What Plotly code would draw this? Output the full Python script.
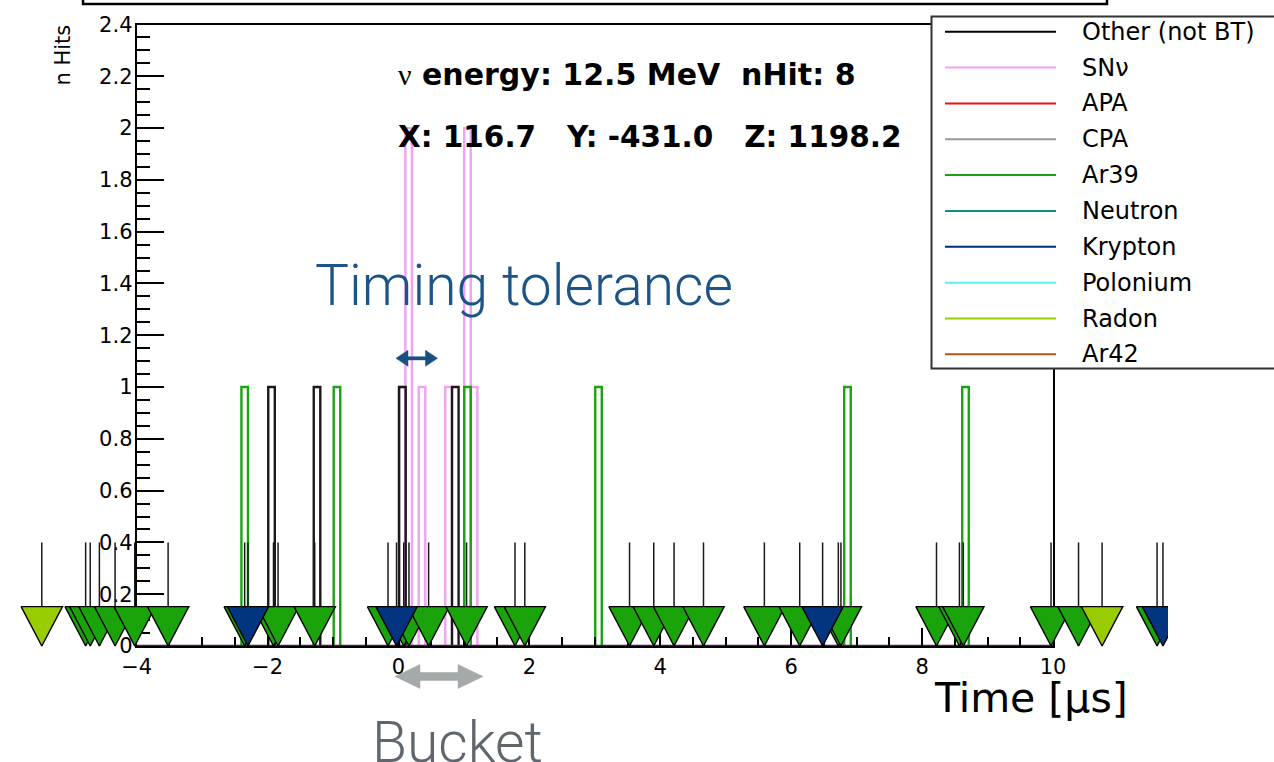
import plotly.graph_objects as go

# ---------------- data ----------------
x_tick_vals = [-4, -2, 0, 2, 4, 6, 8, 10]
y_tick_vals = [0, 0.2, 0.4, 0.6, 0.8, 1.0, 1.2, 1.4, 1.6, 1.8, 2.0, 2.2, 2.4]

legend_categories = ["Other (not BT)", "SNν", "APA", "CPA", "Ar39",
                     "Neutron", "Krypton", "Polonium", "Radon", "Ar42"]
legend_colors = ["#000000", "#f0a2f4", "#ee1111", "#999999", "#1f9f16",
                 "#0a9184", "#002f7a", "#5cf0f0", "#99cc00", "#b4561c"]

# histogram bins (bin centre in µs) and contents
other_hist_time = [-1.94, -1.245, 0.06, 0.868]
other_hist_count = [1, 1, 1, 1]
snnu_hist_time = [0.05, 0.155, 0.359, 0.764, 1.054, 1.155]
snnu_hist_count = [1, 2, 1, 1, 2, 1]
ar39_hist_time = [-2.35, -0.94, 1.054, 3.056, 6.86, 8.663]
ar39_hist_count = [1, 1, 1, 1, 1, 1]

# individual hits (time in µs), drawn as stems + triangles
ar39_hit_time = [-4.78, -4.71, -4.57, -4.33, -4.03, -3.52, -2.35, -1.91, -1.84,
                 -1.28, -0.16, 0.08, 0.16, 0.46, 1.04, 1.78, 1.93, 3.53, 3.90,
                 4.21, 4.66, 5.59, 6.13, 6.72, 6.76, 8.22, 8.57, 8.63, 9.97,
                 10.39, 11.59]
krypton_hit_time = [-2.30, -0.03, 6.48, 11.68]
radon_hit_time = [-5.45, 10.75]

title_line1 = "energy: 12.5 MeV\u00a0\u00a0nHit: 8"
title_line2 = "X: 116.7\u00a0\u00a0\u00a0Y: -431.0\u00a0\u00a0\u00a0Z: 1198.2"
x_title = "Time [μs]"
y_title = "n Hits"

# ---------------- styles / geometry ----------------
W, H = 1274, 762
AX_L, AX_R, AX_T, AX_B = 136.7, 1053.0, 24.5, 646.0
WIDE_R = 1168.0
BIN_W = 0.1
TRI_HALF_W = 0.316
TRI_H = 0.152
STEM_TOP = 0.4
FONT = "DejaVu Sans"
col = dict(zip(legend_categories, legend_colors))
ar39_fill = "#1aa30b"
kr_fill = "#033480"
rn_fill = "#99cc00"


def fx(px):
    return px / W


def fy(py):
    return 1 - py / H


x_min, x_max = x_tick_vals[0], x_tick_vals[-1]
y_min, y_max = y_tick_vals[0], y_tick_vals[-1]
ppu_x = (AX_R - AX_L) / (x_max - x_min)
ppu_y = (AX_B - AX_T) / (y_max - y_min)
x2_lo = x_min - AX_L / ppu_x
x2_hi = x_min + (WIDE_R - AX_L) / ppu_x

fig = go.Figure()


def outline(times, counts):
    xs, ys = [], []
    for t, n in zip(times, counts):
        xs += [t - BIN_W / 2, t - BIN_W / 2, t + BIN_W / 2, t + BIN_W / 2, None]
        ys += [0, n, n, 0, None]
    return xs, ys


for times, counts, c in [(snnu_hist_time, snnu_hist_count, col["SNν"]),
                         (other_hist_time, other_hist_count, "#1a1a1a"),
                         (ar39_hist_time, ar39_hist_count, "#1aa312")]:
    xs, ys = outline(times, counts)
    fig.add_trace(go.Scatter(x=xs, y=ys, mode="lines", line=dict(color=c, width=2.4),
                             xaxis="x", yaxis="y", showlegend=False, hoverinfo="skip"))

# histogram baseline along the full time axis
fig.add_trace(go.Scatter(x=[x_min, x_max], y=[0, 0], mode="lines",
                         line=dict(color="#5b0f5c", width=2.5),
                         xaxis="x", yaxis="y", showlegend=False, hoverinfo="skip"))

# stems for every hit
all_hits = sorted(ar39_hit_time + krypton_hit_time + radon_hit_time)
sx, sy = [], []
for t in all_hits:
    sx += [t, t, None]
    sy += [0, STEM_TOP, None]
fig.add_trace(go.Scatter(x=sx, y=sy, mode="lines", line=dict(color="#1a1a1a", width=1.5),
                         xaxis="x2", yaxis="y2", showlegend=False, hoverinfo="skip"))

# triangles
for times, fill in [(ar39_hit_time, ar39_fill), (krypton_hit_time, kr_fill),
                    (radon_hit_time, rn_fill)]:
    for t in times:
        fig.add_trace(go.Scatter(
            x=[t - TRI_HALF_W, t + TRI_HALF_W, t, t - TRI_HALF_W],
            y=[TRI_H, TRI_H, 0, TRI_H], mode="lines", fill="toself",
            fillcolor=fill, line=dict(color="black", width=1.4),
            xaxis="x2", yaxis="y2", showlegend=False, hoverinfo="skip"))

tickfont = dict(family=FONT, size=21, color="black")
fig.update_layout(
    width=W, height=H, margin=dict(l=0, r=0, t=0, b=0, pad=0, autoexpand=False),
    paper_bgcolor="white", plot_bgcolor="rgba(0,0,0,0)", showlegend=False,
    xaxis=dict(domain=[fx(AX_L), fx(AX_R)], range=[x_min, x_max], anchor="y",
               tickmode="linear", tick0=x_min, dtick=2, ticks="inside", ticklen=18,
               tickwidth=1.5, tickcolor="black",
               minor=dict(dtick=0.5, ticklen=9, tickwidth=1.5, tickcolor="black", ticks="inside"),
               showline=True, linecolor="black", linewidth=2, mirror=True,
               showgrid=False, zeroline=False, tickfont=tickfont, ticklabelstandoff=1,
               automargin=False),
    yaxis=dict(domain=[fy(AX_B), fy(AX_T)], range=[y_min, y_max], anchor="x",
               tickmode="linear", tick0=0, dtick=0.2, ticks="inside", ticklen=27,
               tickwidth=1.5, tickcolor="black",
               minor=dict(dtick=0.05, ticklen=13, tickwidth=1.5, tickcolor="black", ticks="inside"),
               showline=True, linecolor="black", linewidth=2, mirror=True,
               showgrid=False, zeroline=False, tickfont=tickfont, ticklabelstandoff=-2,
               automargin=False),
    xaxis2=dict(domain=[0, fx(WIDE_R)], range=[x2_lo, x2_hi], anchor="y2", visible=False),
    yaxis2=dict(domain=[fy(AX_B + 10), fy(AX_T)], range=[-10 / ppu_y, y_max],
                anchor="x2", visible=False),
)

shapes = []
annotations = []

# title box edge at the very top
shapes.append(dict(type="rect", xref="paper", yref="paper", x0=fx(83), x1=fx(1107),
                   y0=fy(4), y1=fy(-30), line=dict(color="black", width=2.5),
                   fillcolor="rgba(0,0,0,0)", layer="above"))

# legend
shapes.append(dict(type="rect", xref="paper", yref="paper", x0=fx(931.5), x1=fx(1290),
                   y0=fy(368.5), y1=fy(16.5), line=dict(color="#333333", width=2),
                   fillcolor="white", layer="above"))
for i, (cat, c) in enumerate(zip(legend_categories, legend_colors)):
    ry = 31.7 + 35.85 * i
    shapes.append(dict(type="line", xref="paper", yref="paper", x0=fx(945), x1=fx(1056),
                       y0=fy(ry), y1=fy(ry), line=dict(color=c, width=2), layer="above"))
    annotations.append(dict(text=cat, xref="paper", yref="paper", x=fx(1080), y=fy(ry),
                            xanchor="left", yanchor="middle", showarrow=False,
                            font=dict(family=FONT, size=24, color="black")))


def double_arrow(x0, x1, yc, st, hl, hh, color):
    pts = [(x0, yc), (x0 + hl, yc - hh), (x0 + hl, yc - st), (x1 - hl, yc - st),
           (x1 - hl, yc - hh), (x1, yc), (x1 - hl, yc + hh), (x1 - hl, yc + st),
           (x0 + hl, yc + st), (x0 + hl, yc + hh)]
    path = "M " + " L ".join(f"{fx(a):.5f},{fy(b):.5f}" for a, b in pts) + " Z"
    return dict(type="path", xref="paper", yref="paper", path=path,
                fillcolor=color, line=dict(color=color, width=0.5), layer="above")


shapes.append(double_arrow(396, 437.5, 358.3, 1.6, 12, 8, "#1a4f82"))
shapes.append(double_arrow(395, 483, 676.5, 4, 25, 12, "#a4a9a9"))

# event text
annotations.append(dict(
    text='<span style="font-family:\'Liberation Serif\';font-weight:normal;font-style:normal">ν</span> ' + title_line1,
    xref="paper", yref="paper", x=fx(396), y=fy(74), xanchor="left", yanchor="middle",
    showarrow=False, font=dict(family=FONT, size=30, color="black", weight="bold")))
annotations.append(dict(
    text=title_line2, xref="paper", yref="paper", x=fx(396), y=fy(137), xanchor="left",
    yanchor="middle", showarrow=False, font=dict(family=FONT, size=29.5, color="black", weight="bold")))

# axis titles
annotations.append(dict(text=x_title, xref="paper", yref="paper", x=fx(1130), y=fy(698),
                        xanchor="right", yanchor="middle", showarrow=False,
                        font=dict(family=FONT, size=41, color="black")))
annotations.append(dict(text=y_title, xref="paper", yref="paper", x=fx(62.5), y=fy(55),
                        xanchor="center", yanchor="middle", textangle=-90, showarrow=False,
                        font=dict(family=FONT, size=21, color="black")))

# overlay labels
annotations.append(dict(text="Timing tolerance", xref="paper", yref="paper", x=fx(313), y=fy(286),
                        xanchor="left", yanchor="middle", showarrow=False,
                        font=dict(family="Roboto", size=57, color="#1d5488", weight=300)))
annotations.append(dict(text="Bucket", xref="paper", yref="paper", x=fx(370), y=fy(742),
                        xanchor="left", yanchor="middle", showarrow=False,
                        font=dict(family="Roboto", size=57, color="#5f666d", weight=300)))

fig.update_layout(shapes=shapes, annotations=annotations)
fig.write_html("out.html", config={"displayModeBar": False},
               post_script="document.body.style.margin='0px';")
